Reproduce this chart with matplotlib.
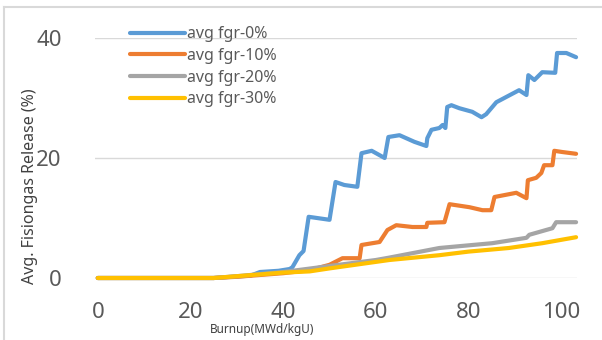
import matplotlib.pyplot as plt
from matplotlib.lines import Line2D

plt.rcParams['font.family'] = ['Noto Sans', 'DejaVu Sans']

# burnup (MWd/kgU) and release (%)
x_0 = [0, 25, 33, 35, 39, 41.4, 42.0, 43.5, 44.4, 45.5, 50.0, 51.3, 53.2, 56.0, 56.9,
       59.1, 61.9, 62.7, 65.1, 68.3, 70.9, 71.1, 72.0, 73.7, 74.4, 75.0, 75.4, 76.3,
       78.0, 80.8, 82.8, 83.8, 84.9, 86.0, 90.9, 92.5, 92.9, 94.2, 95.9, 98.7, 99.1,
       101.1, 103.2]
fgr_0 = [0, 0, 0.4, 1.0, 1.2, 1.5, 1.8, 3.8, 4.5, 10.2, 9.7, 16.0, 15.5, 15.2, 20.8,
         21.2, 20.0, 23.5, 23.8, 22.7, 22.0, 23.3, 24.7, 25.0, 25.5, 25.0, 28.5, 28.8,
         28.3, 27.7, 26.8, 27.3, 28.3, 29.3, 31.3, 30.5, 33.8, 33.0, 34.3, 34.2, 37.5,
         37.5, 36.8]

x_10 = [0, 25, 30, 40, 45.7, 50.0, 52.8, 56.5, 56.9, 60.8, 62.5, 64.4, 67.9, 70.9, 71.1,
        74.8, 75.9, 80.2, 83.0, 84.9, 85.6, 90.3, 92.5, 92.8, 94.6, 95.7, 96.3, 98.1,
        98.5, 100.2, 103.2]
fgr_10 = [0, 0, 0.2, 0.8, 1.3, 2.2, 3.3, 3.3, 5.5, 6.0, 8.0, 8.8, 8.5, 8.5, 9.2,
          9.3, 12.3, 11.8, 11.3, 11.3, 13.5, 14.2, 13.3, 16.3, 16.7, 17.5, 18.8, 18.8,
          21.2, 21.0, 20.7]

x_20 = [0, 25, 30, 40, 50, 60, 62.9, 73.7, 80.8, 85.1, 92.5, 93.1, 98.1, 98.9, 103.2]
fgr_20 = [0, 0, 0.3, 1.0, 2.0, 3.0, 3.4, 5.0, 5.5, 5.8, 6.7, 7.2, 8.3, 9.3, 9.3]

x_30 = [0, 25, 30, 40, 45.7, 50, 62.9, 73.7, 80, 88.7, 95.9, 103.2]
fgr_30 = [0, 0, 0.3, 0.9, 1.1, 1.6, 3.0, 3.8, 4.4, 5.0, 5.8, 6.8]

labels = ['avg fgr-0%', 'avg fgr-10%', 'avg fgr-20%', 'avg fgr-30%']
colors = ['#5b9bd5', '#ed7d31', '#a5a5a5', '#ffc000']

fig = plt.figure(figsize=(6.02, 3.40), dpi=100)
W, H = 602, 340
ax = fig.add_axes([95 / W, 1 - 278 / H, (577 - 95) / W, (278 - 38) / H])

series = [(x_0, fgr_0), (x_10, fgr_10), (x_20, fgr_20), (x_30, fgr_30)]
for (xs, ys), lab, c in zip(series, labels, colors):
    ax.plot(xs, ys, color=c, lw=3, label=lab, solid_joinstyle='round',
            solid_capstyle='round', clip_on=False, zorder=3)

ax.set_xlim(-0.6, 103.4)
ax.set_ylim(0, 40)
ax.set_xticks([0, 20, 40, 60, 80, 100])
ax.set_yticks([0, 20, 40])
ax.grid(axis='y', color='#d9d9d9', lw=1)
ax.set_axisbelow(True)
for s in ax.spines.values():
    s.set_visible(False)
ax.tick_params(length=0, labelsize=16, labelcolor='#595959')
ax.tick_params(axis='x', pad=17)
ax.tick_params(axis='y', pad=24)

fig.text(30 / W, 1 - 186 / H, 'Avg. Fisiongas Release (%)', rotation=90,
         ha='center', va='center', fontsize=11.5, color='#404040')
fig.text(262 / W, 1 - 329 / H, 'Burnup(MWd/kgU)', ha='center', va='center',
         fontsize=8.5, color='#404040')

fig.legend(loc='upper left', bbox_to_anchor=(124 / W, 1 - 20 / H), frameon=False,
           fontsize=11.5, handlelength=3.4, handletextpad=0.15, labelspacing=0.35,
           labelcolor='#595959', borderaxespad=0)

# chart border, only top and left visible in the crop
fig.add_artist(Line2D([4 / W, 4 / W], [0, 1 - 7 / H], color='#d9d9d9', lw=1.5,
                      transform=fig.transFigure))
fig.add_artist(Line2D([4 / W, 1], [1 - 7 / H, 1 - 7 / H], color='#d9d9d9', lw=1.5,
                      transform=fig.transFigure))

fig.savefig('out.png', dpi=100)
